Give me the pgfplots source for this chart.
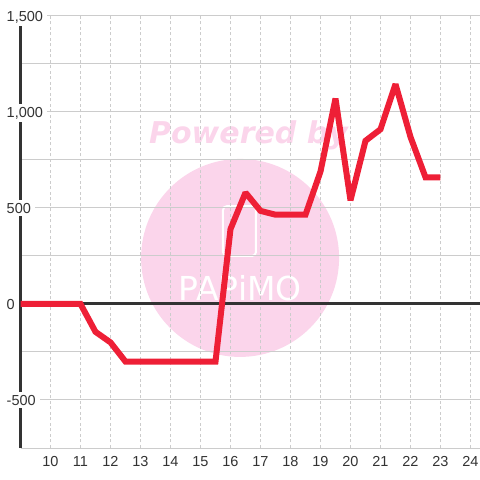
\documentclass[border=0pt]{standalone}
\usepackage{pgfplots}
\pgfplotsset{compat=1.18}
\usepackage{fontspec}
\setmainfont{Liberation Sans}
\newfontfamily\wmfont{DejaVu Sans}
\definecolor{axisdark}{HTML}{333333}
\definecolor{gridgray}{HTML}{CCCCCC}
\definecolor{linered}{HTML}{EE1F36}
\definecolor{wmpink}{HTML}{FBD5EB}
\definecolor{txt}{HTML}{333333}
\begin{document}
\begin{tikzpicture}
\begin{axis}[
  name=ax, set layers, scale only axis, width=459.5bp, height=432bp,
  xmin=9, xmax=24.317, ymin=-750, ymax=1500,
  axis x line*=bottom, axis y line*=left,
  x axis line style={draw=gridgray, line width=1bp, -},
  y axis line style={draw=axisdark, line width=3bp, -},
  xtick={10,...,24}, ytick={-500,0,500,1000,1500}, minor ytick={-250,250,750,1250},
  yticklabels={{-500},{0},{500},{1,000},{1,500}},
  xmajorgrids, ymajorgrids, yminorgrids,
  major x grid style={draw=gridgray, line width=1bp, dash pattern=on 3bp off 2.5bp},
  major y grid style={draw=gridgray, line width=1bp},
  minor y grid style={draw=gridgray, line width=1bp},
  major tick length=0pt, minor tick length=0pt, tick style={draw=none},
  /pgf/number format/assume math mode=true,
  ticklabel style={font=\fontsize{14.5bp}{16bp}\selectfont, text=txt},
  xticklabel style={anchor=north, inner sep=0pt, yshift=-8.5bp},
  yticklabel style={anchor=base west, fill=white, inner xsep=4bp, inner ysep=3bp, xshift=-18bp, yshift=-5.3bp},
  clip=false,
]
\begin{pgfonlayer}{axis background}
\fill[wmpink] (axis cs:16.32,240) circle[radius=99bp];
\node[anchor=base, text=wmpink, font=\wmfont\bfseries\itshape\fontsize{30bp}{32bp}\selectfont] at (axis cs:16.6,838) {Powered by};
\draw[white, line width=2bp, rounded corners=4bp] (axis cs:15.75,250) rectangle (axis cs:16.85,510);
\node[anchor=base, text=white, font=\wmfont\fontsize{33bp}{35bp}\selectfont] at (axis cs:16.32,16) {PAPiMO};
\end{pgfonlayer}
\addplot[axisdark, line width=3bp, forget plot] coordinates {(9,0) (24.317,0)};
\addplot[linered, line width=6bp, line join=miter, miter limit=1.6] coordinates {
(9,0) (9.5,0) (10,0) (10.5,0) (11,0) (11.5,-145) (12,-200) (12.5,-300) (13,-300)
(13.5,-300) (14,-300) (14.5,-300) (15,-300) (15.5,-300) (16,390) (16.5,580)
(17,485) (17.5,465) (18,465) (18.5,465) (19,690) (19.5,1070) (20,540)
(20.5,850) (21,910) (21.5,1145) (22,870) (22.5,660) (23,660)};
\end{axis}
\pgfresetboundingbox
\path ([xshift=-20.5bp,yshift=-32bp]ax.south west) rectangle ([yshift=16bp]ax.north east);
\end{tikzpicture}
\end{document}
